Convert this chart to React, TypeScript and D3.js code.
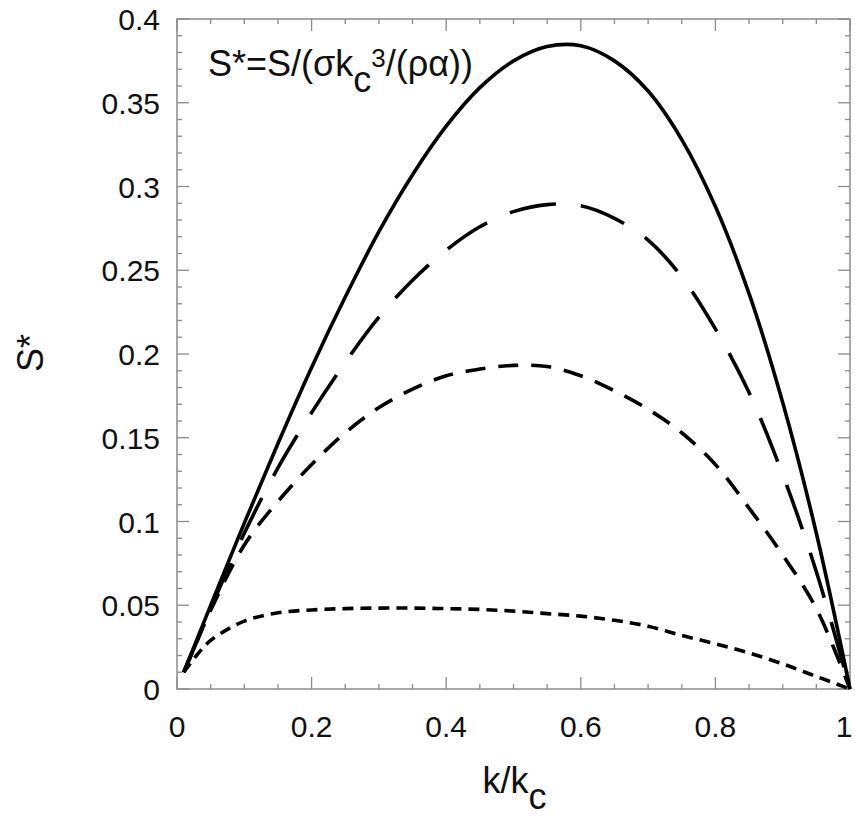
import React, { useRef, useEffect } from 'react';
import * as d3 from 'd3';

// k/kc sample points
const kValues = [0.01, 0.025, 0.05, 0.1, 0.15, 0.2, 0.25, 0.3, 0.35, 0.4, 0.45, 0.5, 0.55, 0.6, 0.65, 0.7, 0.75, 0.8, 0.85, 0.9, 0.95, 1.0];

// S* for the four curves (top to bottom)
const solid = [0.01, 0.025, 0.0499, 0.099, 0.1466, 0.192, 0.234, 0.273, 0.307, 0.336, 0.359, 0.375, 0.3836, 0.384, 0.375, 0.357, 0.328, 0.288, 0.236, 0.171, 0.093, 0.0];
const longDash = [0.01, 0.024, 0.048, 0.093, 0.132, 0.165, 0.195, 0.222, 0.244, 0.262, 0.276, 0.285, 0.2892, 0.2885, 0.281, 0.268, 0.246, 0.215, 0.177, 0.128, 0.07, 0.0];
const midDash = [0.01, 0.024, 0.047, 0.086, 0.112, 0.134, 0.153, 0.168, 0.179, 0.187, 0.191, 0.1932, 0.1925, 0.187, 0.178, 0.167, 0.153, 0.134, 0.108, 0.08, 0.048, 0.0];
const shortDash = [0.01, 0.018, 0.029, 0.0405, 0.0455, 0.0472, 0.048, 0.0483, 0.0483, 0.048, 0.0475, 0.0465, 0.045, 0.0435, 0.041, 0.0375, 0.032, 0.027, 0.0215, 0.015, 0.0075, 0.0];

const xTickLabels = [0, 0.2, 0.4, 0.6, 0.8, 1];
const yTickLabels = [0, 0.05, 0.1, 0.15, 0.2, 0.25, 0.3, 0.35, 0.4];

export default function App() {
  const ref = useRef<SVGSVGElement | null>(null);

  useEffect(() => {
    if (!ref.current) return;
    const width = 855;
    const height = 825;
    const margin = { top: 19, right: 5, bottom: 136, left: 177 };

    const svg = d3.select(ref.current);
    svg.selectAll('*').remove();

    const innerWidth = width - margin.left - margin.right;
    const innerHeight = height - margin.top - margin.bottom;

    const g = svg.append('g').attr('transform', `translate(${margin.left},${margin.top})`);

    const x = d3.scaleLinear().domain([0, 1]).range([0, innerWidth]);
    const y = d3.scaleLinear().domain([0, 0.4]).range([innerHeight, 0]);

    const font = 'Liberation Sans, Arial, Helvetica, sans-serif';
    const axisColor = '#8c8c8c';

    // frame
    g.append('rect')
      .attr('x', 0).attr('y', 0)
      .attr('width', innerWidth).attr('height', innerHeight)
      .attr('fill', 'none')
      .attr('stroke', axisColor)
      .attr('stroke-width', 1.5);

    // ticks, pointing inward on all four sides
    const xMinor = d3.range(0, 1.0001, 0.05);
    const yMinor = d3.range(0, 0.4001, 0.01);
    const isMajor = (v: number, step: number) => Math.abs(v / step - Math.round(v / step)) < 1e-6;

    xMinor.forEach(v => {
      const len = isMajor(v, 0.2) ? 12 : 5;
      g.append('line').attr('x1', x(v)).attr('x2', x(v)).attr('y1', innerHeight).attr('y2', innerHeight - len)
        .attr('stroke', axisColor).attr('stroke-width', 1.3);
      g.append('line').attr('x1', x(v)).attr('x2', x(v)).attr('y1', 0).attr('y2', len)
        .attr('stroke', axisColor).attr('stroke-width', 1.3);
    });
    yMinor.forEach(v => {
      const len = isMajor(v, 0.05) ? 12 : 5;
      g.append('line').attr('x1', 0).attr('x2', len).attr('y1', y(v)).attr('y2', y(v))
        .attr('stroke', axisColor).attr('stroke-width', 1.3);
      g.append('line').attr('x1', innerWidth).attr('x2', innerWidth - len).attr('y1', y(v)).attr('y2', y(v))
        .attr('stroke', axisColor).attr('stroke-width', 1.3);
    });

    // tick labels
    const fmt = (v: number) => String(+v.toFixed(2));
    xTickLabels.forEach(v => {
      g.append('text')
        .attr('x', Math.min(x(v), innerWidth - 6)).attr('y', innerHeight + 48)
        .attr('text-anchor', 'middle')
        .attr('font-family', font).attr('font-size', 30)
        .attr('fill', '#111')
        .text(fmt(v));
    });
    yTickLabels.forEach(v => {
      g.append('text')
        .attr('x', -17).attr('y', y(v) + 11)
        .attr('text-anchor', 'end')
        .attr('font-family', font).attr('font-size', 30)
        .attr('fill', '#111')
        .text(fmt(v));
    });

    // axis titles
    const xt = svg.append('text')
      .attr('x', margin.left + innerWidth / 2 + 1).attr('y', 793)
      .attr('text-anchor', 'middle')
      .attr('font-family', font).attr('font-size', 36)
      .attr('fill', '#111');
    xt.append('tspan').text('k/k');
    xt.append('tspan').attr('dy', 16).text('c');

    svg.append('text')
      .attr('transform', `translate(43,353) rotate(-90)`)
      .attr('text-anchor', 'middle')
      .attr('font-family', font).attr('font-size', 36)
      .attr('fill', '#111')
      .text('S*');

    // annotation
    const ann = svg.append('text')
      .attr('x', 208).attr('y', 76)
      .attr('font-family', font).attr('font-size', 36)
      .attr('fill', '#111');
    ann.append('tspan').text('S*=S/(σk');
    ann.append('tspan').attr('dy', 16).text('c');
    ann.append('tspan').attr('dy', -25).attr('font-size', 26).text('3');
    ann.append('tspan').attr('dy', 9).text('/(ρα))');

    // curves
    const series = [
      { values: solid, dash: null },
      { values: longDash, dash: '47 25' },
      { values: midDash, dash: '20 13' },
      { values: shortDash, dash: '11 7' },
    ];

    const line = d3.line<[number, number]>()
      .x(d => x(d[0]))
      .y(d => y(d[1]))
      .curve(d3.curveCatmullRom.alpha(0.5));

    series.forEach(s => {
      const pts: [number, number][] = kValues.map((k, i) => [k, s.values[i]]);
      const p = g.append('path')
        .attr('d', line(pts))
        .attr('fill', 'none')
        .attr('stroke', '#000')
        .attr('stroke-width', 3.6);
      if (s.dash) p.attr('stroke-dasharray', s.dash);
    });
  }, []);

  return (
    <svg
      ref={ref}
      width={855}
      height={825}
      style={{ position: 'absolute', left: 0, top: 0, background: '#fff' }}
    />
  );
}
